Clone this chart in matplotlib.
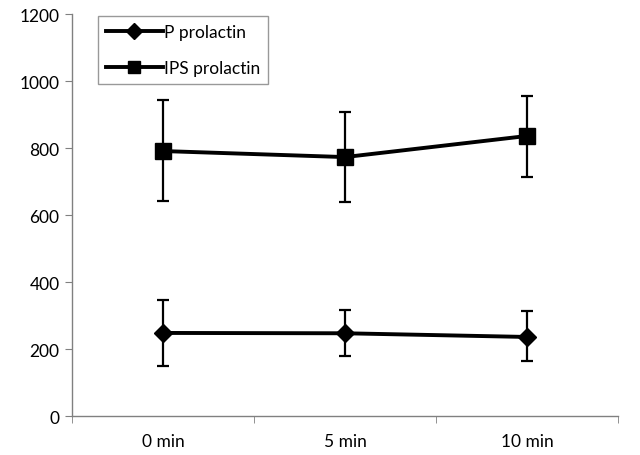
import matplotlib
matplotlib.use("Agg")
import matplotlib.pyplot as plt
from matplotlib.lines import Line2D
import numpy as np

categories = ["0 min", "5 min", "10 min"]
p_mean = [248, 247, 236]
p_upper = [346, 316, 313]
p_lower = [149, 179, 164]
ips_mean = [791, 773, 836]
ips_upper = [943, 907, 955]
ips_lower = [642, 639, 713]

plt.rcParams['font.family'] = ['Lato', 'DejaVu Sans']

fig = plt.figure(figsize=(6.4, 4.56), dpi=100)
ax = fig.add_axes([0.1125, 0.0855, 0.853, 0.8815])

x = np.arange(len(categories))
p_err = [np.array(p_mean) - np.array(p_lower), np.array(p_upper) - np.array(p_mean)]
ips_err = [np.array(ips_mean) - np.array(ips_lower), np.array(ips_upper) - np.array(ips_mean)]

ax.errorbar(x, p_mean, yerr=p_err, color='black', lw=2.8, marker='D', ms=9.5,
            elinewidth=1.6, capsize=4, capthick=1.6)
ax.errorbar(x, ips_mean, yerr=ips_err, color='black', lw=2.8, marker='s', ms=11.5,
            elinewidth=1.6, capsize=4, capthick=1.6)

ax.set_xlim(-0.5, 2.5)
ax.set_ylim(0, 1200)
ax.set_yticks(np.arange(0, 1201, 200))
ax.set_xticks(x)
ax.set_xticklabels(categories)
ax.set_xticks([-0.5, 0.5, 1.5, 2.5], minor=True)
ax.tick_params(axis='x', which='major', length=0, pad=12, labelsize=12.5)
ax.tick_params(axis='x', which='minor', length=5, color='#808080', direction='out')
ax.tick_params(axis='y', length=5, color='#808080', direction='out', labelsize=12.5, pad=4)

for s in ['top', 'right']:
    ax.spines[s].set_visible(False)
for s in ['left', 'bottom']:
    ax.spines[s].set_color('#808080')
    ax.spines[s].set_linewidth(1)

handles = [Line2D([], [], color='black', lw=2.8, marker='D', ms=8),
           Line2D([], [], color='black', lw=2.8, marker='s', ms=8.5)]
labels = ['P prolactin', 'IPS prolactin']
leg = ax.legend(handles, labels, loc='upper left', bbox_to_anchor=(0.0476, 0.995),
                frameon=True, fancybox=False, edgecolor='#808080', fontsize=12.5,
                handlelength=3.3, handletextpad=0.05, labelspacing=1.15,
                borderpad=0.45, borderaxespad=0)
leg.get_frame().set_linewidth(1)

fig.savefig("out.png", dpi=100)
